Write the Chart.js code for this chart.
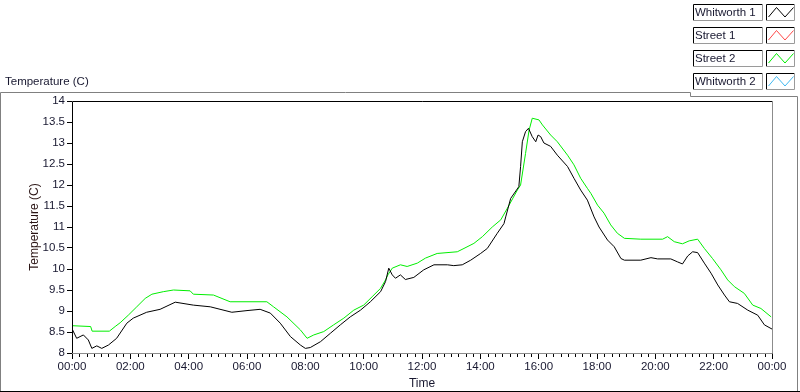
<!DOCTYPE html>
<html>
<head>
<meta charset="utf-8">
<script src="https://cdn.jsdelivr.net/npm/chart.js@4.4.1/dist/chart.umd.min.js"></script>
<style>
  body { margin: 0; background: #fff; }
  canvas { display: block; }
</style>
</head>
<body>
<canvas id="grafico" width="800" height="392"></canvas>
<script>
// hours since midnight / temperature (C)
const whitworth1Horas = [0.02, 0.16, 0.39, 0.56, 0.68, 0.85, 1.02, 1.25, 1.53, 1.88, 2.10, 2.56, 3.02, 3.54, 4.16, 4.74, 5.48, 6.00, 6.45, 6.80, 7.14, 7.49, 7.83, 8.00, 8.17, 8.52, 8.86, 9.20, 9.54, 9.89, 10.23, 10.58, 10.75, 10.86, 10.98, 11.09, 11.26, 11.43, 11.72, 12.06, 12.41, 12.87, 13.09, 13.38, 13.67, 14.01, 14.24, 14.58, 14.81, 14.87, 15.04, 15.32, 15.38, 15.44, 15.55, 15.65, 15.78, 15.90, 15.98, 16.07, 16.18, 16.41, 16.64, 16.99, 17.21, 17.44, 17.67, 17.90, 18.07, 18.36, 18.59, 18.82, 18.94, 19.50, 19.85, 20.08, 20.53, 20.76, 20.93, 21.11, 21.28, 21.45, 21.68, 21.91, 22.14, 22.37, 22.54, 22.82, 23.17, 23.51, 23.74, 24.0];
const whitworth1Temp = [8.55, 8.35, 8.43, 8.31, 8.11, 8.17, 8.11, 8.19, 8.35, 8.71, 8.83, 8.97, 9.04, 9.21, 9.14, 9.10, 8.97, 9.01, 9.04, 8.95, 8.71, 8.39, 8.19, 8.11, 8.13, 8.27, 8.47, 8.67, 8.86, 9.02, 9.22, 9.46, 9.70, 10.02, 9.86, 9.78, 9.86, 9.75, 9.80, 9.98, 10.10, 10.10, 10.08, 10.10, 10.21, 10.37, 10.49, 10.85, 11.08, 11.24, 11.68, 11.96, 12.44, 13.03, 13.27, 13.35, 13.15, 13.03, 13.19, 13.15, 13.00, 12.92, 12.71, 12.44, 12.16, 11.88, 11.64, 11.24, 11.00, 10.69, 10.53, 10.25, 10.21, 10.21, 10.27, 10.24, 10.24, 10.17, 10.12, 10.31, 10.41, 10.39, 10.14, 9.90, 9.62, 9.38, 9.22, 9.18, 9.02, 8.90, 8.67, 8.57];

const street2Horas = [0.0, 0.64, 0.69, 1.28, 1.48, 1.65, 1.93, 2.22, 2.51, 2.74, 3.13, 3.48, 4.05, 4.16, 4.85, 5.42, 6.68, 6.91, 7.37, 7.83, 8.06, 8.29, 8.63, 8.97, 9.32, 9.66, 10.00, 10.29, 10.58, 10.75, 10.83, 10.98, 11.26, 11.49, 11.84, 12.12, 12.52, 13.21, 13.44, 13.78, 14.07, 14.41, 14.70, 14.93, 15.27, 15.38, 15.55, 15.67, 15.78, 16.01, 16.13, 16.41, 16.64, 16.99, 17.21, 17.44, 17.67, 17.79, 18.02, 18.24, 18.47, 18.70, 18.94, 19.50, 20.25, 20.42, 20.65, 20.93, 21.16, 21.45, 21.68, 21.96, 22.25, 22.48, 22.71, 23.05, 23.34, 23.62, 23.97];
const street2Temp = [8.65, 8.63, 8.52, 8.52, 8.63, 8.72, 8.90, 9.10, 9.30, 9.40, 9.46, 9.50, 9.48, 9.40, 9.38, 9.22, 9.22, 9.10, 8.86, 8.55, 8.35, 8.43, 8.51, 8.67, 8.83, 9.02, 9.14, 9.34, 9.54, 9.74, 9.86, 10.02, 10.10, 10.06, 10.14, 10.26, 10.37, 10.41, 10.49, 10.61, 10.77, 11.00, 11.17, 11.45, 11.88, 12.00, 12.75, 13.30, 13.59, 13.55, 13.43, 13.19, 13.03, 12.71, 12.48, 12.16, 11.92, 11.80, 11.52, 11.33, 11.05, 10.85, 10.73, 10.71, 10.71, 10.77, 10.65, 10.60, 10.67, 10.71, 10.49, 10.25, 9.98, 9.74, 9.58, 9.42, 9.14, 9.06, 8.86];

const series = ['Whitworth 1', 'Street 1', 'Street 2', 'Whitworth 2'];
const cores = ['#000000', '#ff4848', '#00ee00', '#40b8f0'];
const yTicks = [8, 14, 0.5];   // min, max, step
const xTicks = [0, 24, 2];     // hours

function pares(horas, temps) {
  return horas.map((h, i) => ({ x: h, y: temps[i] }));
}

const dados = [pares(whitworth1Horas, whitworth1Temp), [], pares(street2Horas, street2Temp), []];

const fonte = 'Liberation Sans, Arial, sans-serif';
const corTexto = '#181830';

const moldura = {
  id: 'moldura',
  afterDraw(chart) {
    const ctx = chart.ctx;
    const a = chart.chartArea;
    const xs = chart.scales.x;
    ctx.save();
    ctx.lineWidth = 1;

    // outer panel
    ctx.strokeStyle = '#808080';
    ctx.beginPath();
    ctx.moveTo(0.5, 392); ctx.lineTo(0.5, 92.5); ctx.lineTo(690.5, 92.5); ctx.lineTo(690.5, 96.5);
    ctx.lineTo(797.5, 96.5); ctx.lineTo(797.5, 392);
    ctx.stroke();
    ctx.strokeStyle = '#000';
    ctx.beginPath(); ctx.moveTo(0, 391.5); ctx.lineTo(800, 391.5); ctx.stroke();

    // plot frame
    ctx.strokeStyle = '#000';
    ctx.beginPath();
    ctx.moveTo(a.left + 0.5, a.bottom); ctx.lineTo(a.left + 0.5, a.top + 0.5); ctx.lineTo(a.right, a.top + 0.5);
    ctx.stroke();
    ctx.strokeStyle = '#8c8c8c';
    ctx.beginPath();
    ctx.moveTo(a.right + 0.5, a.top); ctx.lineTo(a.right + 0.5, a.bottom + 0.5); ctx.lineTo(a.left, a.bottom + 0.5);
    ctx.stroke();

    // minor x ticks every 15 min
    ctx.strokeStyle = '#000';
    ctx.beginPath();
    for (let q = 0; q <= xTicks[1] * 4; q++) {
      if (q % (xTicks[2] * 4) === 0) continue;
      const px = Math.round(xs.getPixelForValue(q / 4)) + 0.5;
      ctx.moveTo(px, a.bottom + 1); ctx.lineTo(px, a.bottom + 4);
    }
    ctx.stroke();

    // label over the graph
    ctx.fillStyle = corTexto;
    ctx.font = '11.5px ' + fonte;
    ctx.textBaseline = 'middle';
    ctx.fillText('Temperature (C)', 5, 82);

    // legend
    chart.data.datasets.forEach((ds, i) => {
      const y0 = 4 + i * 23;
      ctx.fillStyle = '#fff';
      ctx.fillRect(693, y0, 70, 17);
      ctx.fillRect(766, y0, 29, 17);
      [[693, 70], [766, 29]].forEach(([bx, bw]) => {
        ctx.strokeStyle = '#000';
        ctx.beginPath();
        ctx.moveTo(bx + 0.5, y0 + 17); ctx.lineTo(bx + 0.5, y0 + 0.5); ctx.lineTo(bx + bw, y0 + 0.5);
        ctx.stroke();
        ctx.strokeStyle = '#9a9a9a';
        ctx.beginPath();
        ctx.moveTo(bx + bw - 0.5, y0); ctx.lineTo(bx + bw - 0.5, y0 + 16.5); ctx.lineTo(bx, y0 + 16.5);
        ctx.stroke();
      });
      ctx.fillStyle = corTexto;
      ctx.fillText(ds.label, 695, y0 + 9);
      ctx.strokeStyle = ds.borderColor;
      ctx.beginPath();
      ctx.moveTo(768.5, y0 + 13); ctx.lineTo(776.5, y0 + 3.5); ctx.lineTo(785, y0 + 13); ctx.lineTo(793.5, y0 + 3.5);
      ctx.stroke();
    });
    ctx.restore();
  }
};

new Chart(document.getElementById('grafico').getContext('2d'), {
  type: 'line',
  data: {
    datasets: series.map((nome, i) => ({
      label: nome,
      data: dados[i],
      borderColor: cores[i],
      borderWidth: 1,
      pointRadius: 0,
      tension: 0,
      fill: false
    }))
  },
  options: {
    responsive: false,
    animation: false,
    layout: { padding: { left: 0, top: 101, right: 28, bottom: 0 } },
    plugins: { legend: { display: false }, tooltip: { enabled: false } },
    scales: {
      x: {
        type: 'linear',
        min: xTicks[0],
        max: xTicks[1],
        afterFit: s => { s.height = 39; },
        ticks: {
          stepSize: xTicks[2],
          padding: 1,
          color: corTexto,
          font: { family: fonte, size: 11.5 },
          maxRotation: 0,
          callback: v => String(v % 24).padStart(2, '0') + ':00'
        },
        grid: { drawOnChartArea: false, drawTicks: true, tickLength: 6, color: '#000' },
        border: { display: false },
        title: { display: true, text: 'Time', color: corTexto, font: { family: fonte, size: 12 }, padding: { top: 0, bottom: 1 } }
      },
      y: {
        min: yTicks[0],
        max: yTicks[1],
        afterFit: s => { s.width = 72; },
        ticks: {
          stepSize: yTicks[2],
          padding: 2,
          color: corTexto,
          font: { family: fonte, size: 11.5 },
          callback: v => String(Number(v.toFixed(1)))
        },
        grid: { drawOnChartArea: false, drawTicks: true, tickLength: 5, color: '#000' },
        border: { display: false },
        title: { display: true, text: 'Temperature (C)', color: '#2a1414', font: { family: fonte, size: 12 }, padding: { top: 27, bottom: 0 } }
      }
    }
  },
  plugins: [moldura]
});
</script>
</body>
</html>
